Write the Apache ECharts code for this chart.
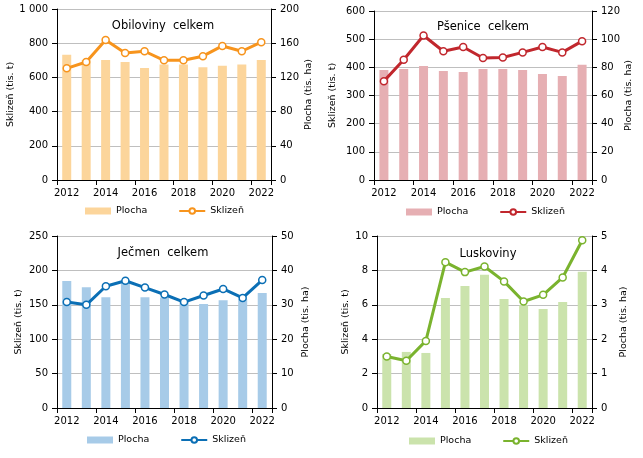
<!DOCTYPE html>
<html><head><meta charset="utf-8">
<script src="https://cdn.jsdelivr.net/npm/echarts@6/dist/echarts.min.js"></script>
<style>html,body{margin:0;padding:0;background:#fff}#c{width:643px;height:458px}</style>
</head><body><div id="c"></div>
<script>
const years = ['2012','2013','2014','2015','2016','2017','2018','2019','2020','2021','2022'];
const obilPlocha = [146.6, 140.4, 140.4, 138, 131, 135, 135, 132, 133.7, 135, 140.4];
const obilSklizen = [653, 690, 819, 743, 753, 700, 700, 724, 784, 753, 806];
const psenPlocha = [78.1, 78.8, 81, 77.4, 76.7, 78.8, 78.8, 78.1, 75.3, 73.9, 81.9];
const psenSklizen = [351, 427, 513, 457, 472, 433, 435, 453, 472, 453, 493];
const jecPlocha = [36.9, 35.1, 32.2, 36.4, 32.2, 32.1, 31.3, 30.2, 31.3, 31.6, 33.4];
const jecSklizen = [154, 150, 177, 185, 175, 165, 154, 163.5, 173, 160, 186];
const luskPlocha = [1.57, 1.63, 1.6, 3.2, 3.55, 3.87, 3.17, 2.99, 2.88, 3.08, 3.96];
const luskSklizen = [2.99, 2.75, 3.9, 8.48, 7.9, 8.23, 7.36, 6.19, 6.58, 7.59, 9.75];

const titles = ['Obiloviny  celkem', 'Pšenice  celkem', 'Ječmen  celkem', 'Luskoviny'];
const leftAxes = [[1000, 200], [600, 100], [250, 50], [10, 2]];
const rightAxes = [[200, 40], [120, 20], [50, 10], [5, 1]];
const lineColors = ['#F7941D', '#C1272D', '#0B6FB5', '#7AB32E'];
const barColors = ['#FCD59B', '#E6AFB3', '#A7CBE8', '#CBE3AC'];

const FONT = 'DejaVu Sans';
const panels = [
  {plocha: obilPlocha, sklizen: obilSklizen, grid: {left: 57, top: 9, width: 214, height: 171}, lGap: 38, rGap: 33, title: [163, 26], legend: [85, 206]},
  {plocha: psenPlocha, sklizen: psenSklizen, grid: {left: 374, top: 11, width: 218, height: 169}, lGap: 36, rGap: 32, title: [483, 27], legend: [406, 207]},
  {plocha: jecPlocha, sklizen: jecSklizen, grid: {left: 57, top: 236, width: 215, height: 172}, lGap: 33, rGap: 29, title: [163, 253], legend: [87, 435]},
  {plocha: luskPlocha, sklizen: luskSklizen, grid: {left: 377, top: 236, width: 215, height: 172}, lGap: 26, rGap: 27, title: [488, 254], legend: [409, 436]}
];

const grid = [], xAxis = [], yAxis = [], series = [], legend = [], graphic = [];
panels.forEach((p, i) => {
  grid.push(Object.assign({containLabel: false}, p.grid));
  xAxis.push({
    type: 'category', gridIndex: i, data: years, boundaryGap: true,
    axisLine: {lineStyle: {color: '#000', width: 1}},
    axisTick: {show: true, length: 5, lineStyle: {color: '#000'}},
    axisLabel: {interval: 1, color: '#000', fontFamily: FONT, fontSize: 10, margin: 8}
  });
  yAxis.push({
    type: 'value', gridIndex: i, min: 0, max: leftAxes[i][0], interval: leftAxes[i][1],
    name: 'Sklizeň (tis. t)', nameLocation: 'middle', nameGap: p.lGap,
    nameTextStyle: {color: '#000', fontFamily: FONT, fontSize: 9.5},
    axisLine: {show: true, lineStyle: {color: '#000'}},
    axisTick: {show: true, length: 5, lineStyle: {color: '#000'}},
    axisLabel: {color: '#000', fontFamily: FONT, fontSize: 10, margin: 9,
      formatter: v => String(v).replace(/\B(?=(\d{3})+(?!\d))/g, ' ')},
    splitLine: {show: true, lineStyle: {color: '#BFBFBF', width: 1}}
  });
  yAxis.push({
    type: 'value', gridIndex: i, position: 'right', min: 0, max: rightAxes[i][0], interval: rightAxes[i][1],
    name: 'Plocha (tis. ha)', nameLocation: 'middle', nameGap: p.rGap, nameRotate: 90,
    nameTextStyle: {color: '#000', fontFamily: FONT, fontSize: 9.5},
    axisLine: {show: true, lineStyle: {color: '#000'}},
    axisTick: {show: true, length: 5, lineStyle: {color: '#000'}},
    axisLabel: {color: '#000', fontFamily: FONT, fontSize: 10, margin: 9},
    splitLine: {show: false}
  });
  series.push({
    name: 'Plocha' + i, type: 'bar', xAxisIndex: i, yAxisIndex: 2 * i + 1,
    data: p.plocha, barWidth: 9, itemStyle: {color: barColors[i]}, z: 2
  });
  series.push({
    name: 'Sklizeň' + i, type: 'line', xAxisIndex: i, yAxisIndex: 2 * i,
    data: p.sklizen, symbol: 'circle', symbolSize: 7, showSymbol: true,
    lineStyle: {color: lineColors[i], width: 3},
    itemStyle: {color: '#fff', borderColor: lineColors[i], borderWidth: 1.5}, z: 3
  });
  legend.push({
    left: p.legend[0], top: p.legend[1], padding: 0, itemGap: 31, itemWidth: 26, itemHeight: 7,
    data: [{name: 'Plocha' + i, icon: 'rect', itemStyle: {color: barColors[i]}}, {name: 'Sklizeň' + i}],
    formatter: n => n.replace(/\d+$/, ''),
    textStyle: {color: '#000', fontFamily: FONT, fontSize: 9.5}
  });
  graphic.push({
    type: 'text', x: p.title[0], y: p.title[1],
    style: {text: titles[i], fill: '#000', font: '11.5px "DejaVu Sans"', textAlign: 'center', textVerticalAlign: 'middle'}
  });
});

const chart = echarts.init(document.getElementById('c'), null, {renderer: 'canvas'});
chart.setOption({animation: false, grid, xAxis, yAxis, series, legend, graphic});
</script></body></html>
